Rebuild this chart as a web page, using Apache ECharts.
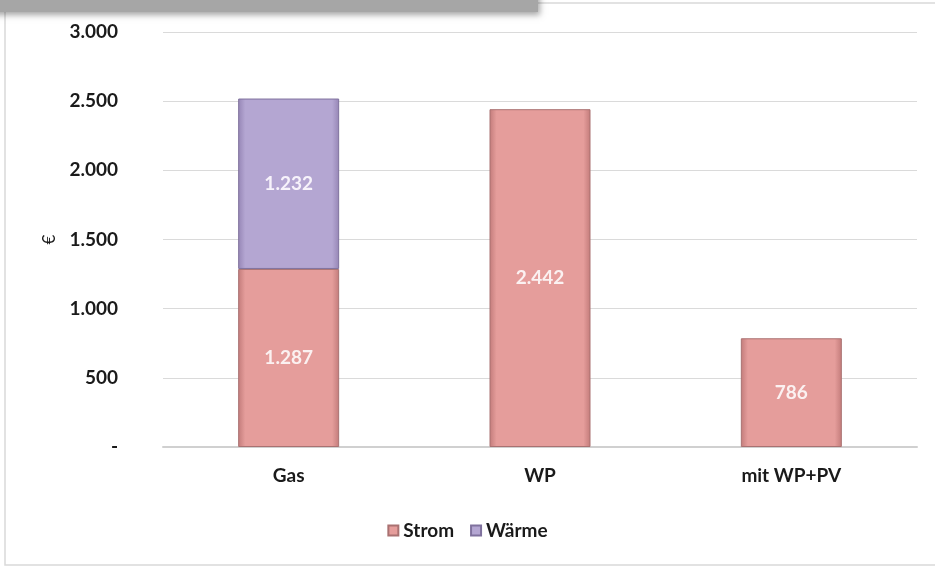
<!DOCTYPE html>
<html>
<head>
<meta charset="utf-8">
<script src="https://cdn.jsdelivr.net/npm/echarts@6/dist/echarts.min.js"></script>
<style>
  html, body { margin: 0; padding: 0; background: #fff; }
  #chart { width: 935px; height: 566px; }
</style>
</head>
<body>
<div id="chart"></div>
<script>
// Annual energy cost per heating variant (EUR)
const categories = ['Gas', 'WP', 'mit WP+PV'];
const strom = [1287, 2442, 786];
const waerme = [1232, null, null];
const yTicks = { min: 0, max: 3000, interval: 500 };

function fmt(v) {
  if (v === 0) return '-';
  return String(Math.round(v)).replace(/\B(?=(\d{3})+(?!\d))/g, '.');
}

// Bevelled look: darker left/right edges around a flat face
function bevel(base, edge) {
  return {
    type: 'linear', x: 0, y: 0, x2: 1, y2: 0,
    colorStops: [
      { offset: 0, color: edge },
      { offset: 0.07, color: base },
      { offset: 0.93, color: base },
      { offset: 1, color: edge }
    ]
  };
}

const FONT = 'Lato, "Open Sans", sans-serif';
const TXT = '#1a1a1a';
const chart = echarts.init(document.getElementById('chart'));

chart.setOption({
  animation: false,
  backgroundColor: '#ffffff',
  grid: { left: 163, right: 18, top: 32, bottom: 119, containLabel: false },
  legend: {
    top: 516,
    left: 'center',
    itemWidth: 10,
    itemHeight: 10,
    itemGap: 16,
    icon: 'rect',
    textStyle: { fontFamily: FONT, fontWeight: 'bold', fontSize: 19, color: TXT },
    data: ['Strom', 'Wärme']
  },
  xAxis: {
    type: 'category',
    data: categories,
    axisLine: { show: true, lineStyle: { color: '#d0d0d0', width: 2 } },
    axisTick: { show: false },
    axisLabel: { margin: 19, fontFamily: FONT, fontWeight: 'bold', fontSize: 19, color: TXT }
  },
  yAxis: {
    type: 'value',
    min: yTicks.min,
    max: yTicks.max,
    interval: yTicks.interval,
    name: '€',
    nameLocation: 'middle',
    nameRotate: 90,
    nameGap: 100,
    nameTextStyle: { fontFamily: FONT, fontSize: 17, color: TXT },
    axisLine: { show: false },
    axisTick: { show: false },
    splitLine: { lineStyle: { color: '#dadada', width: 1 } },
    axisLabel: {
      margin: 45,
      fontFamily: FONT,
      fontWeight: 'bold',
      fontSize: 19,
      color: TXT,
      formatter: fmt
    }
  },
  series: [
    {
      name: 'Strom',
      type: 'bar',
      stack: 'kosten',
      barWidth: 101,
      data: strom,
      itemStyle: {
        color: bevel('#e59d9b', '#c27b7a'),
        borderColor: '#a97171',
        borderWidth: 1
      },
      label: {
        show: true,
        position: 'inside',
        formatter: p => fmt(p.value),
        fontFamily: FONT,
        fontWeight: 'bold',
        fontSize: 19,
        color: '#fbf1f1'
      }
    },
    {
      name: 'Wärme',
      type: 'bar',
      stack: 'kosten',
      barWidth: 101,
      data: waerme,
      itemStyle: {
        color: bevel('#b4a6d2', '#9585b5'),
        borderColor: '#7f719d',
        borderWidth: 1
      },
      label: {
        show: true,
        position: 'inside',
        formatter: p => fmt(p.value),
        fontFamily: FONT,
        fontWeight: 'bold',
        fontSize: 19,
        color: '#f7f3fb'
      }
    }
  ],
  graphic: [
    {
      type: 'rect',
      z: 0,
      silent: true,
      shape: { x: 5, y: 3, width: 940, height: 562 },
      style: { fill: 'none', stroke: '#d9d9d9', lineWidth: 1.5 }
    },
    {
      type: 'rect',
      z: 100,
      silent: true,
      shape: { x: -10, y: -10, width: 548, height: 22 },
      style: {
        fill: '#a6a6a6',
        shadowBlur: 6,
        shadowOffsetX: 2,
        shadowOffsetY: 3,
        shadowColor: 'rgba(0,0,0,0.35)'
      }
    }
  ]
});
</script>
</body>
</html>
